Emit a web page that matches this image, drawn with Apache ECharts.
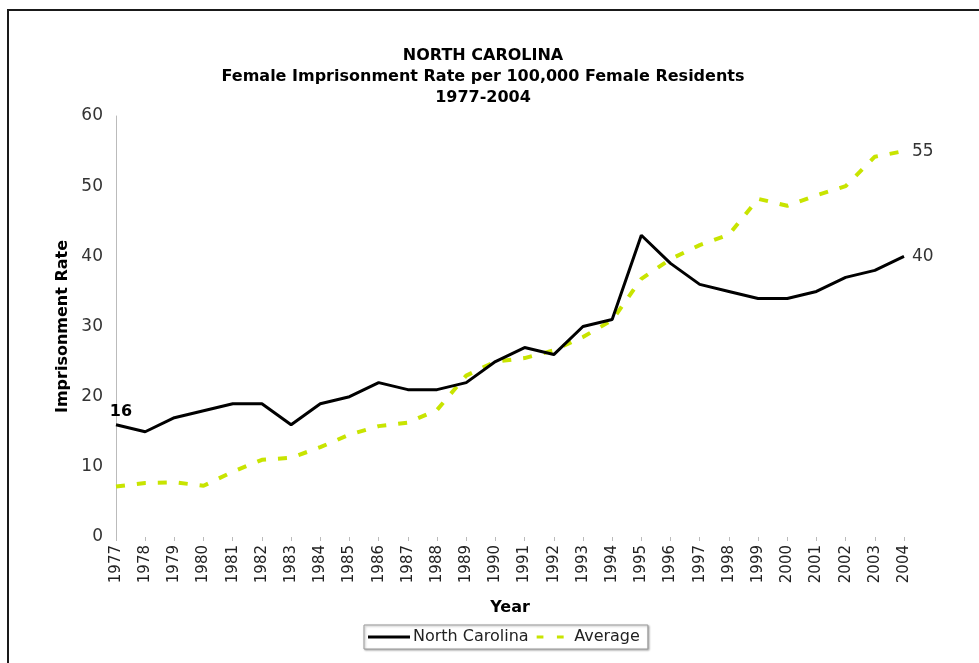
<!DOCTYPE html>
<html>
<head>
<meta charset="utf-8">
<script src="https://cdn.jsdelivr.net/npm/echarts@6/dist/echarts.min.js"></script>
<style>
  html, body { margin: 0; padding: 0; background: #fff; }
  #chart { width: 979px; height: 663px; }
</style>
</head>
<body>
<div id="chart"></div>
<script>
const years = ["1977", "1978", "1979", "1980", "1981", "1982", "1983", "1984", "1985", "1986",
  "1987", "1988", "1989", "1990", "1991", "1992", "1993", "1994", "1995", "1996",
  "1997", "1998", "1999", "2000", "2001", "2002", "2003", "2004"];
const northCarolina = [16, 15, 17, 18, 19, 19, 16, 19, 20, 22,
  21, 21, 22, 25, 27, 26, 30, 31, 43, 39,
  36, 35, 34, 34, 35, 37, 38, 40];
const average = [7.2, 7.7, 7.8, 7.3, 9.3, 11, 11.3, 12.8, 14.6, 15.8,
  16.3, 18.1, 23, 25, 25.5, 26.6, 28.5, 30.9, 36.8, 39.6,
  41.6, 43.1, 48.2, 47.2, 48.7, 50, 54.2, 55];
const yTicks = [0, 10, 20, 30, 40, 50, 60];

const font = "Verdana, 'DejaVu Sans', sans-serif";
const green = "#c8e400";
const mychart = echarts.init(document.getElementById("chart"));

const option = {
  backgroundColor: "#fff",
  animation: false,
  textStyle: { fontFamily: font },
  title: {
    text: "NORTH CAROLINA\nFemale Imprisonment Rate per 100,000 Female Residents\n1977-2004",
    left: 478,
    top: 40,
    textAlign: "center",
    textStyle: {
      fontFamily: font,
      fontSize: 16,
      fontWeight: "bold",
      color: "#000",
      lineHeight: 21
    }
  },
  graphic: [
    {
      type: "polyline",
      shape: { points: [[8, 700], [8, 10], [990, 10]] },
      style: { stroke: "#1a1a1a", lineWidth: 2, fill: null }
    }
  ],
  legend: {
    bottom: 14,
    left: 364,
    padding: [4, 8, 4, 4],
    itemGap: 8,
    itemWidth: 42,
    itemHeight: 3,
    borderColor: "#999",
    borderWidth: 1,
    shadowColor: "rgba(0,0,0,0.3)",
    shadowBlur: 2,
    shadowOffsetX: 1,
    shadowOffsetY: 1,
    backgroundColor: "#fff",
    textStyle: { fontFamily: font, fontSize: 16, color: "#222", padding: [0, 0, 0, -2] },
    data: [
      { name: "North Carolina", icon: "rect", itemStyle: { color: "#000" } },
      { name: "Average", icon: "path://M0,0 H9 V4 H0 Z M27,0 H36 V4 H27 Z", itemStyle: { color: green } }
    ]
  },
  grid: {
    left: 116,
    right: 75,
    top: 116,
    bottom: 126,
    containLabel: false
  },
  xAxis: {
    type: "category",
    data: years,
    boundaryGap: false,
    name: "Year",
    nameLocation: "middle",
    nameGap: 63,
    nameTextStyle: { fontFamily: font, fontSize: 16, fontWeight: "bold", color: "#000" },
    axisLine: { show: false },
    axisTick: { show: true, alignWithLabel: true, length: 4, lineStyle: { color: "#bbb" } },
    axisLabel: {
      rotate: 90,
      interval: 0,
      fontSize: 15,
      color: "#222",
      margin: 8
    },
    splitLine: { show: false }
  },
  yAxis: {
    type: "value",
    min: 0,
    max: 60,
    interval: 10,
    name: "Imprisonment Rate",
    nameLocation: "middle",
    nameGap: 44,
    nameTextStyle: { fontFamily: font, fontSize: 16, fontWeight: "bold", color: "#000" },
    axisLine: { show: true, lineStyle: { color: "#bbb", width: 1 } },
    axisTick: { show: false },
    axisLabel: {
      fontSize: 17,
      color: "#333",
      margin: 13,
      formatter: function (v) { return yTicks.indexOf(v) >= 0 ? String(v) : ""; }
    },
    splitLine: { show: false }
  },
  series: [
    {
      name: "North Carolina",
      type: "line",
      data: northCarolina,
      symbol: "none",
      lineStyle: { color: "#000", width: 3 },
      itemStyle: { color: "#000" },
      z: 3,
      markPoint: {
        symbol: "circle",
        symbolSize: 0,
        data: [
          {
            coord: [0, northCarolina[0]],
            label: {
              show: true,
              position: "top",
              offset: [5, 0],
              formatter: String(northCarolina[0]),
              fontFamily: font,
              fontSize: 16,
              fontWeight: "bold",
              color: "#000"
            }
          },
          {
            coord: [years.length - 1, northCarolina[northCarolina.length - 1]],
            label: {
              show: true,
              position: "right",
              distance: 8,
              formatter: String(northCarolina[northCarolina.length - 1]),
              fontFamily: font,
              fontSize: 17,
              color: "#333"
            }
          }
        ]
      }
    },
    {
      name: "Average",
      type: "line",
      data: average,
      symbol: "none",
      lineStyle: { color: green, width: 4, type: [9, 12] },
      itemStyle: { color: green },
      z: 2,
      markPoint: {
        symbol: "circle",
        symbolSize: 0,
        data: [
          {
            coord: [years.length - 1, average[average.length - 1]],
            label: {
              show: true,
              position: "right",
              distance: 8,
              formatter: String(Math.round(average[average.length - 1])),
              fontFamily: font,
              fontSize: 17,
              color: "#333"
            }
          }
        ]
      }
    }
  ]
};

mychart.setOption(option);
</script>
</body>
</html>
